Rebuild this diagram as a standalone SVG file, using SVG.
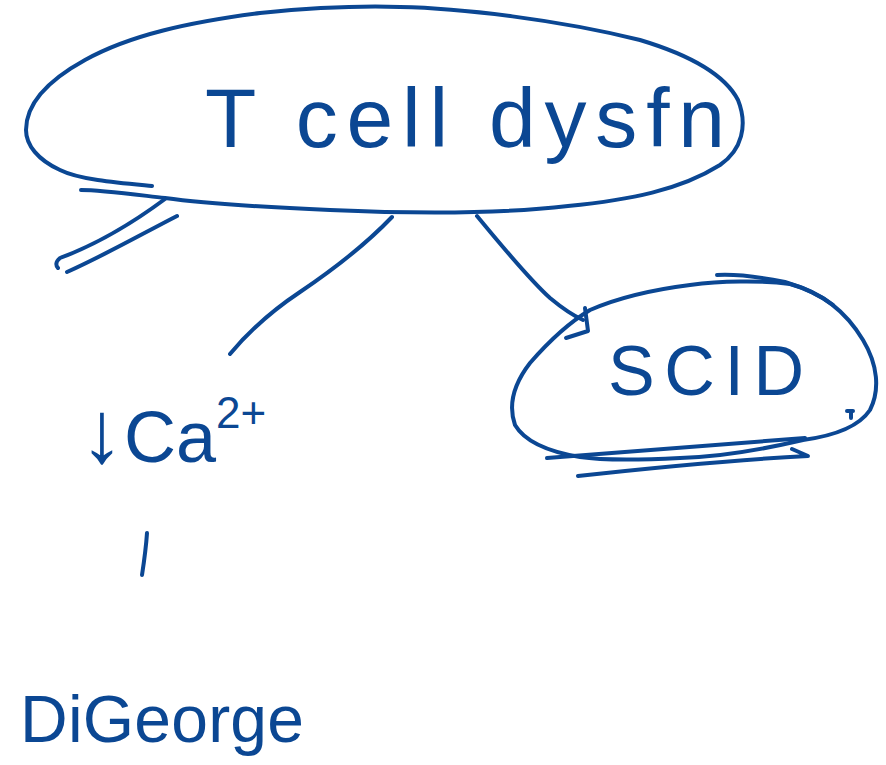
<svg xmlns="http://www.w3.org/2000/svg" width="886" height="765" viewBox="0 0 886 765">
<style>
.ink{fill:none;stroke:#0b4793;stroke-width:4;stroke-linecap:round;stroke-linejoin:round}
.txt{fill:#0b4793;font-family:"Liberation Sans","DejaVu Sans",sans-serif}
</style>
<rect width="886" height="765" fill="#fff"/>
<g id="node-tcell">
<path class="ink" d="M152,186 C120,183 80,180 60,170 C38,160 26,145 26,130 C26,105 45,82 85,60 C130,35 190,22 260,13 C320,7 370,6 400,7 C460,8 560,20 640,40 C690,55 725,75 738,100 C748,125 742,150 720,165 C680,190 630,200 568,206 C500,214 420,214 330,210 C260,207 200,203 165,198 C130,194 100,190 81,190"/>
<path class="ink" d="M165,199 C130,225 95,245 60,258 C55,262 56,266 58,268"/>
<path class="ink" d="M177,216 C140,235 105,255 67,272"/>
<text class="txt" x="205" y="147" font-size="84" textLength="520" lengthAdjust="spacing">T cell dysfn</text>
</g>
<g id="node-scid">
<path class="ink" d="M590,310 C620,297 650,290 690,285 C720,281 760,280 790,284 C820,292 845,310 863,340 C878,365 880,390 870,410 C860,425 840,435 803,440 C760,450 720,457 680,458 C640,460 600,460 580,457 C550,452 525,442 515,425 C508,405 513,385 530,363 C550,340 570,322 590,310 Z"/>
<path class="ink" d="M717,275 C735,274 760,277 785,282 C805,288 820,295 833,305"/>
<path class="ink" d="M547,458 C640,450 730,443 805,438"/>
<path class="ink" d="M578,476 C650,468 730,460 808,456 L792,449"/>
<path class="ink" d="M847,411 L853,411 M851,411 L851,418"/>
<text class="txt" x="608" y="395" font-size="70" textLength="196" lengthAdjust="spacing">SCID</text>
</g>
<g id="node-ca">
<text class="txt" x="80" y="462" font-size="72"><tspan font-size="88">↓</tspan>Ca<tspan font-size="44" dy="-34">2+</tspan></text>
</g>
<g id="node-digeorge">
<text class="txt" x="20" y="742" font-size="66" textLength="284" lengthAdjust="spacing">DiGeorge</text>
</g>
<g id="connectors">
<path class="ink" d="M392,217 C370,240 340,265 300,292 C270,312 250,330 230,354"/>
<path class="ink" d="M477,216 C505,250 530,280 550,298 C562,308 572,315 583,320"/>
<path class="ink" d="M585,308 L588,331 L566,338"/>
<path class="ink" d="M147,533 C146,548 144,562 142,575"/>
</g>
</svg>
